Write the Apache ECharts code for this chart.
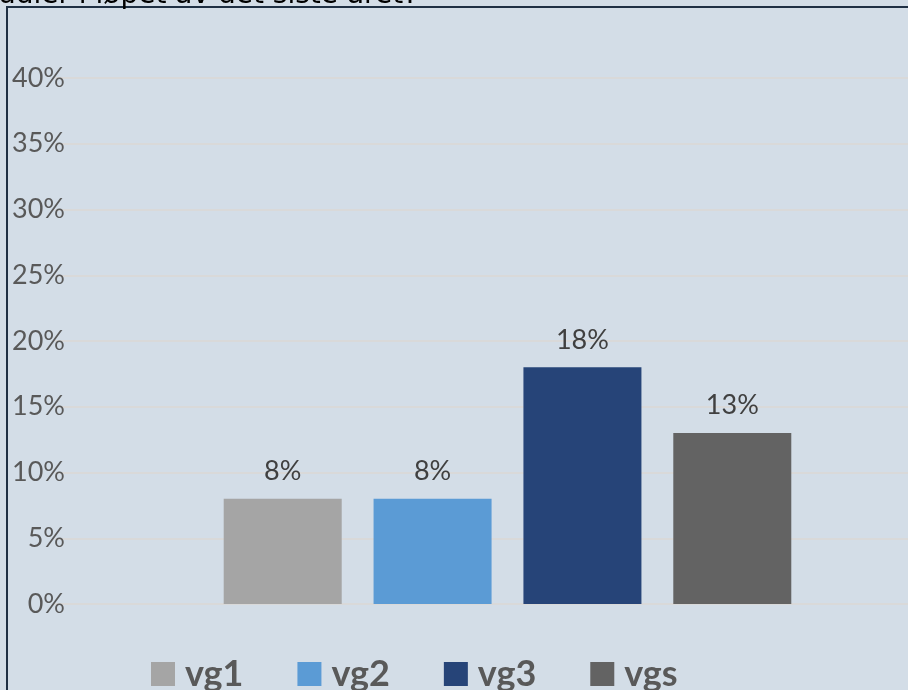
<!DOCTYPE html>
<html>
<head>
<meta charset="utf-8">
<script src="https://cdn.jsdelivr.net/npm/echarts@6/dist/echarts.min.js"></script>
<style>
  html, body { margin: 0; padding: 0; overflow: hidden; background: #d3dde7; }
  #ChartDom { width: 960px; height: 690px; }
</style>
</head>
<body>
<div id="ChartDom"></div>
<script>
// data
const titleText = "studier i løpet av det siste året?"
const categories = [""]
const seriesNames = ["vg1", "vg2", "vg3", "vgs"]
const seriesValues = [8, 8, 18, 13]
const seriesColors = ["#a5a5a5", "#5b9bd5", "#264478", "#636363"]
const yTicks = { min: 0, max: 40, interval: 5 }

const chartDom = document.getElementById("ChartDom")
const myChart = echarts.init(chartDom)

const series = seriesNames.map((name, i) => ({
  name: name,
  type: "bar",
  barWidth: 118,
  barGap: "27%",
  itemStyle: { color: seriesColors[i] },
  label: {
    show: true,
    position: "top",
    distance: 14,
    formatter: "{c}%",
    color: "#404040",
    fontFamily: "Lato",
    fontSize: 27,
  },
  data: [seriesValues[i]],
}))

let option = {
  backgroundColor: "#d3dde7",
  animation: false,
  graphic: [
    {
      type: "rect",
      z: 0,
      shape: { x: 7, y: 7, width: 2000, height: 2000 },
      style: { fill: "none", stroke: "#1f3044", lineWidth: 2 },
    },
    {
      type: "text",
      z: 100,
      style: {
        text: titleText,
        x: 418,
        y: 10,
        textAlign: "right",
        textVerticalAlign: "bottom",
        fill: "#000000",
        font: "28px 'DejaVu Sans'",
      },
    },
  ],
  legend: {
    left: 146,
    top: 651,
    icon: "rect",
    itemWidth: 24,
    itemHeight: 24,
    itemGap: 54,
    textStyle: {
      color: "#595959",
      fontFamily: "Lato",
      fontWeight: "bold",
      fontSize: 36,
      padding: [0, 0, 0, 5],
    },
    data: seriesNames,
  },
  grid: {
    top: 78,
    left: 55,
    right: 0,
    bottom: 86,
    containLabel: false,
  },
  xAxis: {
    type: "category",
    data: categories,
    axisLine: { show: true, lineStyle: { color: "#d9d9d9", width: 2 } },
    axisTick: { show: false },
    axisLabel: { show: false },
  },
  yAxis: {
    type: "value",
    min: yTicks.min,
    max: yTicks.max,
    interval: yTicks.interval,
    axisLine: { show: false },
    axisTick: { show: false },
    splitLine: { show: true, lineStyle: { color: "#d9d9d9", width: 2 } },
    axisLabel: {
      formatter: "{value}%",
      align: "right",
      margin: -10,
      color: "#595959",
      fontFamily: "Lato",
      fontSize: 27,
    },
  },
  series: series,
}

myChart.setOption(option)
</script>
</body>
</html>
